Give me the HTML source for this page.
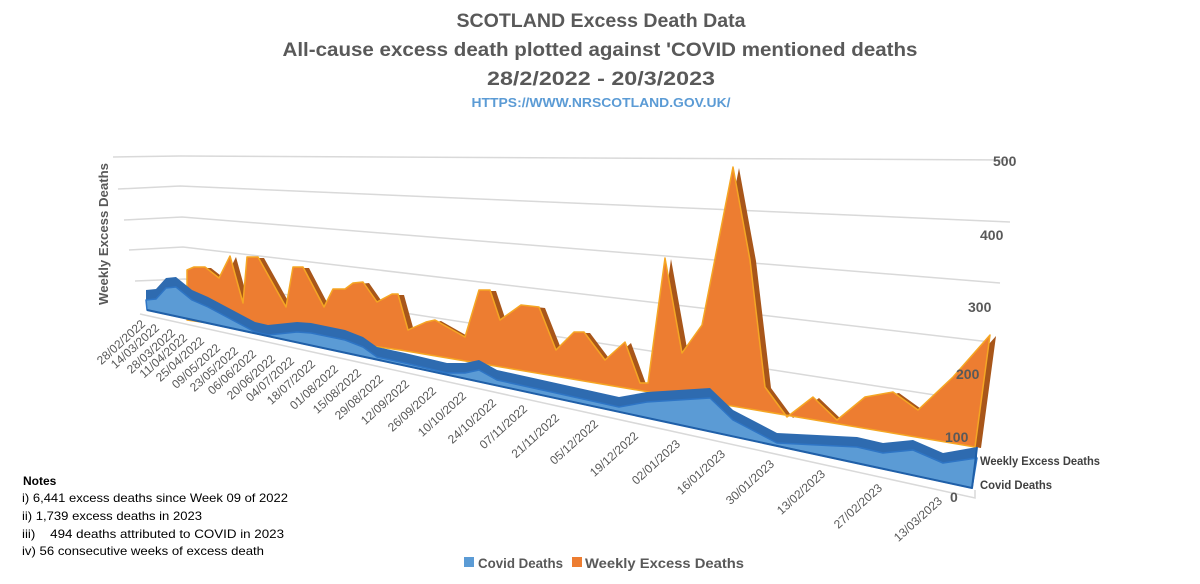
<!DOCTYPE html>
<html><head><meta charset="utf-8"><style>
html,body{margin:0;padding:0;background:#fff;}
svg{display:block;font-family:"Liberation Sans",sans-serif;}
</style></head><body>
<svg width="1200" height="584" viewBox="0 0 1200 584" xmlns="http://www.w3.org/2000/svg">
<g font-weight="bold" fill="#595959" text-anchor="middle">
<text x="601" y="27" font-size="19" textLength="289" lengthAdjust="spacingAndGlyphs">SCOTLAND Excess Death Data</text>
<text x="600" y="56" font-size="19" textLength="635" lengthAdjust="spacingAndGlyphs">All-cause excess death plotted against 'COVID mentioned deaths</text>
<text x="601" y="85" font-size="19" textLength="228" lengthAdjust="spacingAndGlyphs">28/2/2022 - 20/3/2023</text>
<text x="601" y="107" font-size="13" fill="#5b9bd5" textLength="259" lengthAdjust="spacingAndGlyphs">HTTPS://WWW.NRSCOTLAND.GOV.UK/</text>
</g>
<g stroke="#d9d9d9" stroke-width="1.5" fill="none">
<polyline points="113,157 180,156 1010,160"/>
<polyline points="118,189 180,186 1010,222"/>
<polyline points="124,220 182,217 1000,283"/>
<polyline points="129,250 183,247 990,342"/>
<polyline points="135,281 185,279 980,402"/>
<polyline points="140,314 975,498 975,490"/>
</g>
<text transform="translate(108,234) rotate(-90)" text-anchor="middle" font-size="13" font-weight="bold" fill="#595959" textLength="142" lengthAdjust="spacingAndGlyphs">Weekly Excess Deaths</text>
<g stroke-linejoin="round">
<polygon transform="translate(6,1)" fill="#a8561a" points="187,270 194,267 205,267 219,278 230,256 243,303 247,257 258,257 286,307 293,267 303,267 324,307 333,289 345,289 353,283 363,282 377,302 392,294 398,294 408,330 426,322 435,320 465,337 479,290 490,290 500,320 521,305 539,307 556,350 574,332 584,332 605,360 625,342 640,383 648,383 665,258 682,353 702,325 733,167 750,260 765,387 787,417 813,397 837,420 865,397 893,392 918,410 953,377 990,335 975,447 400,350 187,320"/>
<polygon fill="#ed7d31" stroke="#f5a623" stroke-width="1.5" points="187,270 194,267 205,267 219,278 230,256 243,303 247,257 258,257 286,307 293,267 303,267 324,307 333,289 345,289 353,283 363,282 377,302 392,294 398,294 408,330 426,322 435,320 465,337 479,290 490,290 500,320 521,305 539,307 556,350 574,332 584,332 605,360 625,342 640,383 648,383 665,258 682,353 702,325 733,167 750,260 765,387 787,417 813,397 837,420 865,397 893,392 918,410 953,377 990,335 975,447 400,350 187,320"/>
</g>
<g stroke-linejoin="round">
<polygon fill="#2e6bb0" points="146,290 156,289 166,278 176,277 192,290 208,297 255,322 268,325 297,322 311,323 345,330 363,337 377,347 405,353 447,363 465,363 479,360 497,370 556,383 619,397 647,392 710,388 733,410 777,433 857,437 883,443 913,440 943,453 977,447 977,458 943,463 913,450 883,453 857,447 777,443 733,420 710,398 647,402 619,407 556,393 497,380 479,370 465,373 447,373 405,363 377,357 363,347 345,340 311,333 297,332 268,335 255,332 208,307 192,300 176,287 166,288 156,299 146,300"/>
<polygon fill="#5b9bd5" stroke="#2e75c5" stroke-width="1.5" points="146,300 156,299 166,288 176,287 192,300 208,307 255,332 268,335 297,332 311,333 345,340 363,347 377,357 405,363 447,373 465,373 479,370 497,380 556,393 619,407 647,402 710,398 733,420 777,443 857,447 883,453 913,450 943,463 977,458 972,488 147,310"/>
<polyline fill="none" stroke="#1f5fa8" stroke-width="2" points="147,310 972,488 977,447"/>
</g>
<g font-size="14" font-weight="bold" fill="#595959">
<text x="993" y="166">500</text>
<text x="980" y="240">400</text>
<text x="968" y="312">300</text>
<text x="956" y="379">200</text>
<text x="945" y="442">100</text>
<text x="950" y="502">0</text>
</g>
<g font-size="12" font-weight="bold" fill="#404040">
<text x="980" y="465" textLength="120" lengthAdjust="spacingAndGlyphs">Weekly Excess Deaths</text>
<text x="980" y="489" textLength="72" lengthAdjust="spacingAndGlyphs">Covid Deaths</text>
</g>
<g font-size="12" fill="#595959" text-anchor="end">
<text transform="translate(146,325) rotate(-42)">28/02/2022</text>
<text transform="translate(160,329) rotate(-42)">14/03/2022</text>
<text transform="translate(176,334) rotate(-42)">28/03/2022</text>
<text transform="translate(188,339) rotate(-42)">11/04/2022</text>
<text transform="translate(205,342) rotate(-42)">25/04/2022</text>
<text transform="translate(221,349) rotate(-42)">09/05/2022</text>
<text transform="translate(239,352) rotate(-42)">23/05/2022</text>
<text transform="translate(257,355) rotate(-42)">06/06/2022</text>
<text transform="translate(276,360) rotate(-42)">20/06/2022</text>
<text transform="translate(295,362) rotate(-42)">04/07/2022</text>
<text transform="translate(316,365) rotate(-42)">18/07/2022</text>
<text transform="translate(339,370) rotate(-42)">01/08/2022</text>
<text transform="translate(362,374) rotate(-42)">15/08/2022</text>
<text transform="translate(384,380) rotate(-42)">29/08/2022</text>
<text transform="translate(410,385) rotate(-42)">12/09/2022</text>
<text transform="translate(437,392) rotate(-42)">26/09/2022</text>
<text transform="translate(467,397) rotate(-42)">10/10/2022</text>
<text transform="translate(497,404) rotate(-42)">24/10/2022</text>
<text transform="translate(528,410) rotate(-42)">07/11/2022</text>
<text transform="translate(560,419) rotate(-42)">21/11/2022</text>
<text transform="translate(599,425) rotate(-42)">05/12/2022</text>
<text transform="translate(639,437) rotate(-42)">19/12/2022</text>
<text transform="translate(681,445) rotate(-42)">02/01/2023</text>
<text transform="translate(726,455) rotate(-42)">16/01/2023</text>
<text transform="translate(775,465) rotate(-42)">30/01/2023</text>
<text transform="translate(826,475) rotate(-42)">13/02/2023</text>
<text transform="translate(883,489) rotate(-42)">27/02/2023</text>
<text transform="translate(943,502) rotate(-42)">13/03/2023</text>
</g>
<g font-size="12" fill="#000">
<text x="23" y="485" font-weight="bold">Notes</text>
<text x="22" y="502" textLength="266" lengthAdjust="spacingAndGlyphs">i) 6,441 excess deaths since Week 09 of 2022</text>
<text x="22" y="520" textLength="180" lengthAdjust="spacingAndGlyphs">ii) 1,739 excess deaths in 2023</text>
<text x="22" y="538" xml:space="preserve" textLength="262" lengthAdjust="spacingAndGlyphs">iii)    494 deaths attributed to COVID in 2023</text>
<text x="22" y="555" textLength="242" lengthAdjust="spacingAndGlyphs">iv) 56 consecutive weeks of excess death</text>
</g>
<rect x="464" y="557" width="10" height="10" fill="#5b9bd5"/>
<text x="478" y="568" font-size="14" font-weight="bold" fill="#595959" textLength="85" lengthAdjust="spacingAndGlyphs">Covid Deaths</text>
<rect x="572" y="557" width="10" height="10" fill="#ed7d31"/>
<text x="585" y="568" font-size="14" font-weight="bold" fill="#595959" textLength="159" lengthAdjust="spacingAndGlyphs">Weekly Excess Deaths</text>
</svg>
</body></html>
